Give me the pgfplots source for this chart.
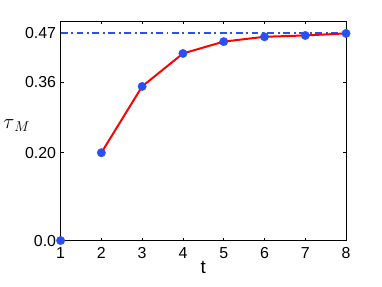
\documentclass[border=0pt]{standalone}
\usepackage{pgfplots}
\pgfplotsset{compat=1.18}
\usepackage{fontspec}
\setmainfont{Liberation Sans}
\definecolor{dotblue}{RGB}{40,80,245}

\begin{document}
\begin{tikzpicture}
\begin{axis}[
    at={(0,0)}, anchor=south west,
    scale only axis,
    width=286bp, height=220bp,
    xmin=1, xmax=8, ymin=0, ymax=0.5,
    xtick={1,...,8},
    ytick={0,0.2,0.36,0.4717},
    yticklabels={0.0,0.20,0.36,0.47},
    tick align=inside,
    major tick length=3bp,
    tick style={black, line width=0.5pt},
    axis line style={line width=0.7pt},
    ticklabel style={font=\fontsize{16}{18}\selectfont},
    /pgf/number format/assume math mode=true,
    xticklabel style={yshift=-3bp},
    yticklabel style={xshift=-1bp},
    xlabel={t},
    xlabel style={font=\fontsize{19}{21}\selectfont, yshift=4bp},
    clip=false,
]
\addplot[draw=dotblue, line width=2pt, dash pattern=on 7pt off 3.5pt on 2pt off 3.5pt, forget plot] coordinates {(1,0.4717) (8,0.4717)};
\addplot[draw=red, line width=2pt, mark=none] coordinates {
    (2,0.200) (3,0.351) (4,0.426) (5,0.453) (6,0.464) (7,0.467) (8,0.4717)
};
\addplot[only marks, mark=*, mark size=4.2bp, color=dotblue, mark options={draw=dotblue, fill=dotblue}] coordinates {
    (1,0.000) (2,0.200) (3,0.351) (4,0.426) (5,0.453) (6,0.464) (7,0.467) (8,0.4717)
};
\node[font=\fontsize{22}{24}\selectfont] at (axis cs:1,0.262) [xshift=-44bp] {$\tau_{\,M}$};
\end{axis}
\path[use as bounding box] (-60bp,-46bp) rectangle (322bp,241bp);
\end{tikzpicture}
\end{document}
